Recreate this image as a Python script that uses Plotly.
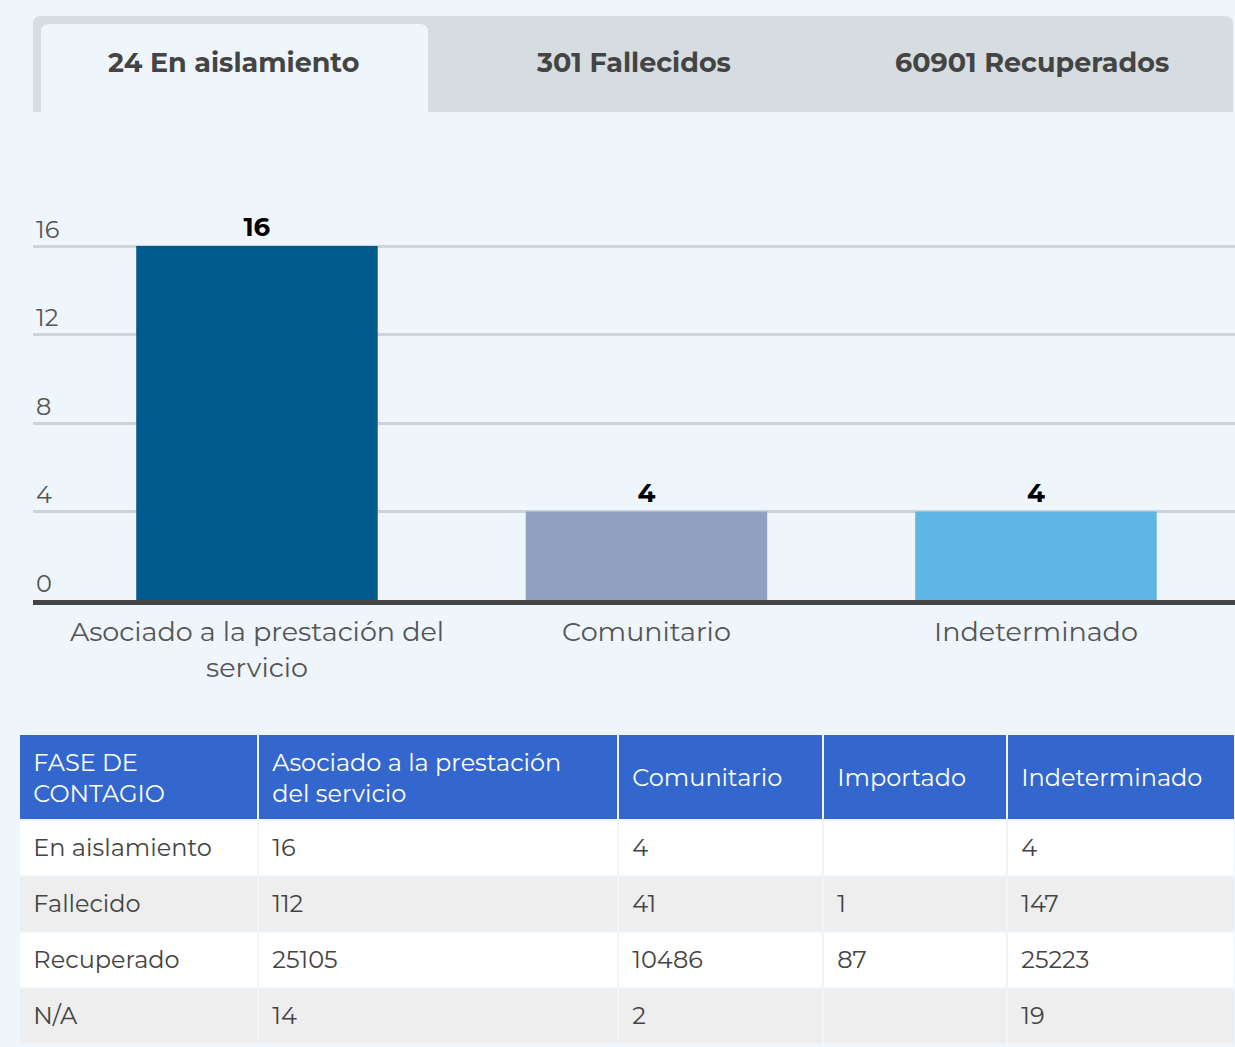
import plotly.graph_objects as go

W, H = 1235, 1047
BG = "#EEF5FB"
FONT = "Montserrat, Lato, sans-serif"
NB = "\u00a0"

# ---- data ----
tab_labels = ["24 En aislamiento", "301 Fallecidos", "60901 Recuperados"]
categories = ["Asociado a la prestación del servicio", "Comunitario", "Indeterminado"]
category_ticktext = ["Asociado a la prestación del<br>servicio", "Comunitario", "Indeterminado"]
values = [16, 4, 4]
bar_colors = ["#005A8C", "#8FA0C3", "#5EB6E4"]
y_ticks = [0, 4, 8, 12, 16]

table_header = ["FASE DE<br>CONTAGIO", "Asociado a la prestación<br>del servicio",
                "Comunitario", "Importado", "Indeterminado"]
row_labels = ["En aislamiento", "Fallecido", "Recuperado", "N/A"]
col_asociado = ["16", "112", "25105", "14"]
col_comunitario = ["4", "41", "10486", "2"]
col_importado = ["", "1", "87", ""]
col_indeterminado = ["4", "147", "25223", "19"]


def fx(p):
    return p / W


def fy(p):
    return 1 - p / H


def pad(texts):
    return [NB + t.replace("<br>", "<br>" + NB) if t else t for t in texts]


two_line_headers = [pad([t])[0] if "<br>" in t else "" for t in table_header]
one_line_headers = [pad([t])[0] if "<br>" not in t else "" for t in table_header]

fig = go.Figure()

fig.add_trace(go.Bar(
    x=categories, y=values,
    marker=dict(color=bar_colors, line=dict(width=0)),
    width=0.62,
    text=[str(v) for v in values], textposition="outside",
    textfont=dict(family=FONT, size=26, color="#000000", weight=700),
    cliponaxis=False, hoverinfo="skip",
))

col_widths = [239, 360, 205, 184, 228]
row_fills = ["#FFFFFF", "#EEEEEE", "#FFFFFF", "#EEEEEE"]
CLEAR = "rgba(0,0,0,0)"

# table background (cell fills and borders)
fig.add_trace(go.Table(
    domain=dict(x=[fx(19), 1], y=[fy(1044), fy(734)]),
    columnwidth=col_widths,
    header=dict(values=[""] * 5, fill_color="#3367CD", height=86,
                line=dict(color=BG, width=2)),
    cells=dict(values=[[""] * 4] * 5, fill_color=[row_fills] * 5, height=56,
               line=dict(color=BG, width=2)),
))

# table text (two-line headers and body), placed so it sits centred in the rows
fig.add_trace(go.Table(
    domain=dict(x=[fx(19), 1], y=[fy(1044), fy(740)]),
    columnwidth=col_widths,
    header=dict(
        values=two_line_headers,
        fill_color=CLEAR,
        font=dict(family=FONT, size=24, color="white"),
        align="left", height=90,
        line=dict(color=CLEAR, width=0),
    ),
    cells=dict(
        values=[pad(row_labels), pad(col_asociado), pad(col_comunitario),
                pad(col_importado), pad(col_indeterminado)],
        fill_color=CLEAR,
        font=dict(family=FONT, size=24, color="#444444"),
        align="left", height=56,
        line=dict(color=CLEAR, width=0),
    ),
))

# single-line header labels, centred vertically in the header row
fig.add_trace(go.Table(
    domain=dict(x=[fx(19), 1], y=[fy(1044), fy(760)]),
    columnwidth=col_widths,
    header=dict(
        values=one_line_headers,
        fill_color=CLEAR,
        font=dict(family=FONT, size=24, color="white"),
        align="left", height=56,
        line=dict(color=CLEAR, width=0),
    ),
    cells=dict(values=[[]] * 5, fill_color=CLEAR, line=dict(color=CLEAR, width=0)),
))

px_per_unit = (600 - 246) / 16
top_px = 600 - 18 * px_per_unit

fig.update_layout(
    width=W, height=H,
    margin=dict(l=0, r=0, t=0, b=0),
    paper_bgcolor=BG, plot_bgcolor=BG,
    showlegend=False,
    font=dict(family=FONT, color="#555555"),
    xaxis=dict(
        domain=[fx(33), 1],
        range=[-0.575, 2.511],
        tickvals=categories, ticktext=category_ticktext,
        tickfont=dict(family=FONT, size=27, color="#555555"),
        showline=True, linecolor="#444444", linewidth=5,
        ticks="outside", ticklen=4, tickcolor="rgba(0,0,0,0)",
        showgrid=False, fixedrange=True,
    ),
    yaxis=dict(
        domain=[fy(600), fy(top_px)],
        range=[0, 18],
        tickvals=y_ticks,
        ticklabelposition="inside top",
        tickfont=dict(family=FONT, size=24, color="#555555"),
        showgrid=True, gridcolor="#CDD4D9", gridwidth=2.5,
        zeroline=False, showline=False, fixedrange=True,
    ),
)

r = 8
container = (f"M {fx(33)},{fy(112)} L {fx(33)},{fy(16+r)} "
             f"Q {fx(33)},{fy(16)} {fx(33+r)},{fy(16)} "
             f"L {fx(1233-r)},{fy(16)} Q {fx(1233)},{fy(16)} {fx(1233)},{fy(16+r)} "
             f"L {fx(1233)},{fy(112)} Z")
active = (f"M {fx(41)},{fy(112)} L {fx(41)},{fy(24+r)} "
          f"Q {fx(41)},{fy(24)} {fx(41+r)},{fy(24)} "
          f"L {fx(428-r)},{fy(24)} Q {fx(428)},{fy(24)} {fx(428)},{fy(24+r)} "
          f"L {fx(428)},{fy(112)} Z")
fig.add_shape(type="path", path=container, xref="paper", yref="paper",
              fillcolor="#D5DDE0", line=dict(width=0), layer="below")
fig.add_shape(type="path", path=active, xref="paper", yref="paper",
              fillcolor=BG, line=dict(width=0), layer="below")

for label, cx in zip(tab_labels, [233, 633, 1032]):
    fig.add_annotation(x=fx(cx), y=fy(63), xref="paper", yref="paper",
                       text=label, showarrow=False,
                       font=dict(family=FONT, size=27, color="#444444", weight=700),
                       xanchor="center", yanchor="middle")

fig.write_html(
    "out.html",
    config={"displayModeBar": False},
    post_script="document.body.style.margin='0px';document.body.style.background='#EEF5FB';",
)
